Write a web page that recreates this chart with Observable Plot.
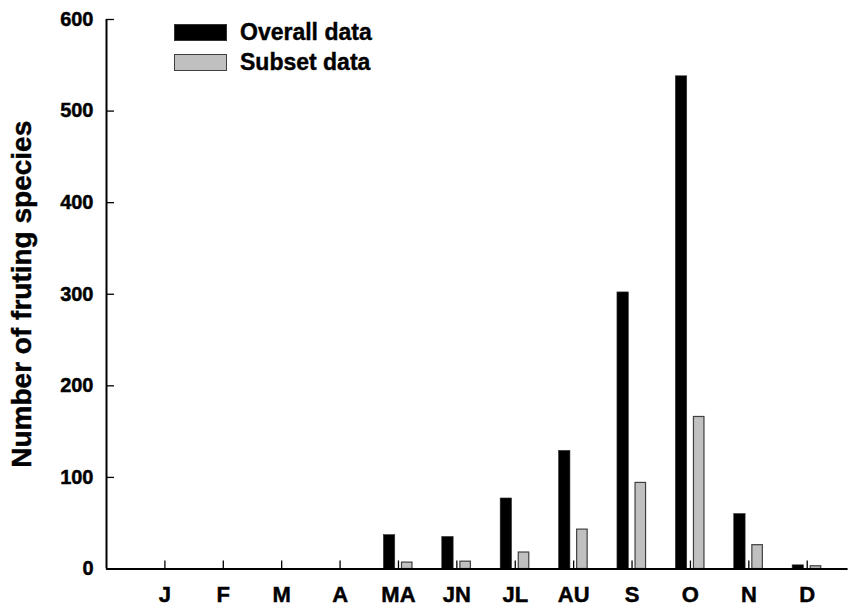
<!DOCTYPE html>
<html><head><meta charset="utf-8">
<script src="https://cdn.jsdelivr.net/npm/d3@7"></script>
<script src="https://cdn.jsdelivr.net/npm/@observablehq/plot@0.6"></script>
<style>
body{margin:0;background:#fff;}
#wrap{position:relative;width:860px;height:608px;font-family:"Liberation Sans",Arial,sans-serif;}
#wrap svg text{stroke:#000;stroke-width:0.45px;}
.legend{position:absolute;left:174px;top:17px;font-weight:bold;font-size:23px;color:#000;-webkit-text-stroke:0.4px #000;}
.row{display:flex;align-items:center;height:30px;}
.sw{width:53px;height:17px;margin-right:13px;box-sizing:border-box;}
</style></head><body><div id="wrap"></div>
<script>
const months = ["J","F","M","A","MA","JN","JL","AU","S","O","N","D"];
const overall = [0,0,0,0,37,35,77,129,302,538,60,4];
const subset = [0,0,0,0,7,8,18,43,94,166,26,3];
const yTicks = [0,100,200,300,400,500,600];
const seriesNames = ["Overall data","Subset data"];

const W = 860, H = 608;
const mL = 106, mR = 12.4, mT = 19, mB = 39.5;
const xMax = 12.7;
const pxPerX = (W - mL - mR) / xMax;
const pxPerY = (H - mT - mB) / 600;

const data = months.map((m, k) => ({i: k + 1, month: m, overall: overall[k], subset: subset[k]}));
const font = '"Liberation Sans", Arial, sans-serif';

const plot = Plot.plot({
  width: W, height: H,
  marginLeft: mL, marginRight: mR, marginTop: mT, marginBottom: mB,
  style: {fontFamily: font, background: "#fff", color: "#000"},
  x: {domain: [0, xMax]},
  y: {domain: [0, 600]},
  marks: [
    Plot.rect(data.filter(d => d.overall > 0), {
      x1: d => d.i - 0.25, x2: d => d.i - 0.055, y1: 0, y2: "overall",
      fill: "#000", stroke: "#333", strokeWidth: 0.6
    }),
    Plot.rect(data.filter(d => d.subset > 0), {
      x1: d => d.i + 0.06, x2: d => d.i + 0.24, y1: 0, y2: "subset",
      fill: "#c0c0c0", stroke: "#404040", strokeWidth: 1.2
    }),
    Plot.ruleX(data, {x: "i", y1: 0, y2: 8 / pxPerY, stroke: "#000", strokeWidth: 1.3}),
    Plot.ruleY(yTicks, {y: d => d, x1: 0, x2: 8 / pxPerX, stroke: "#000", strokeWidth: 1.3}),
    Plot.ruleY([0], {stroke: "#000", strokeWidth: 2.2}),
    Plot.ruleX([0], {stroke: "#000", strokeWidth: 2}),
    Plot.axisX({
      ticks: data.map(d => d.i),
      tickFormat: v => months[v - 1],
      tickSize: 0, tickPadding: 17, fontSize: 22, fontWeight: "bold", label: null
    }),
    Plot.axisY({
      ticks: yTicks, tickFormat: d => String(d),
      tickSize: 0, tickPadding: 13, fontSize: 20, fontWeight: "bold", label: null,
      style: {letterSpacing: "1.5px"}
    }),
    Plot.text(["Number of fruting species"], {
      frameAnchor: "left", rotate: -90, dx: -84, fontSize: 28, fontWeight: "bold",
      textAnchor: "middle", lineAnchor: "middle", fill: "#000"
    })
  ]
});

const wrap = document.getElementById("wrap");
wrap.appendChild(plot);

const legend = document.createElement("div");
legend.className = "legend";
const swStyles = [
  "background:#000;border:1px solid #333;",
  "background:#c0c0c0;border:1.5px solid #404040;"
];
seriesNames.forEach((name, k) => {
  const row = document.createElement("div");
  row.className = "row";
  const sw = document.createElement("div");
  sw.className = "sw";
  sw.style.cssText = swStyles[k];
  const t = document.createElement("span");
  t.textContent = name;
  row.appendChild(sw);
  row.appendChild(t);
  legend.appendChild(row);
});
wrap.appendChild(legend);
</script>
</body></html>
